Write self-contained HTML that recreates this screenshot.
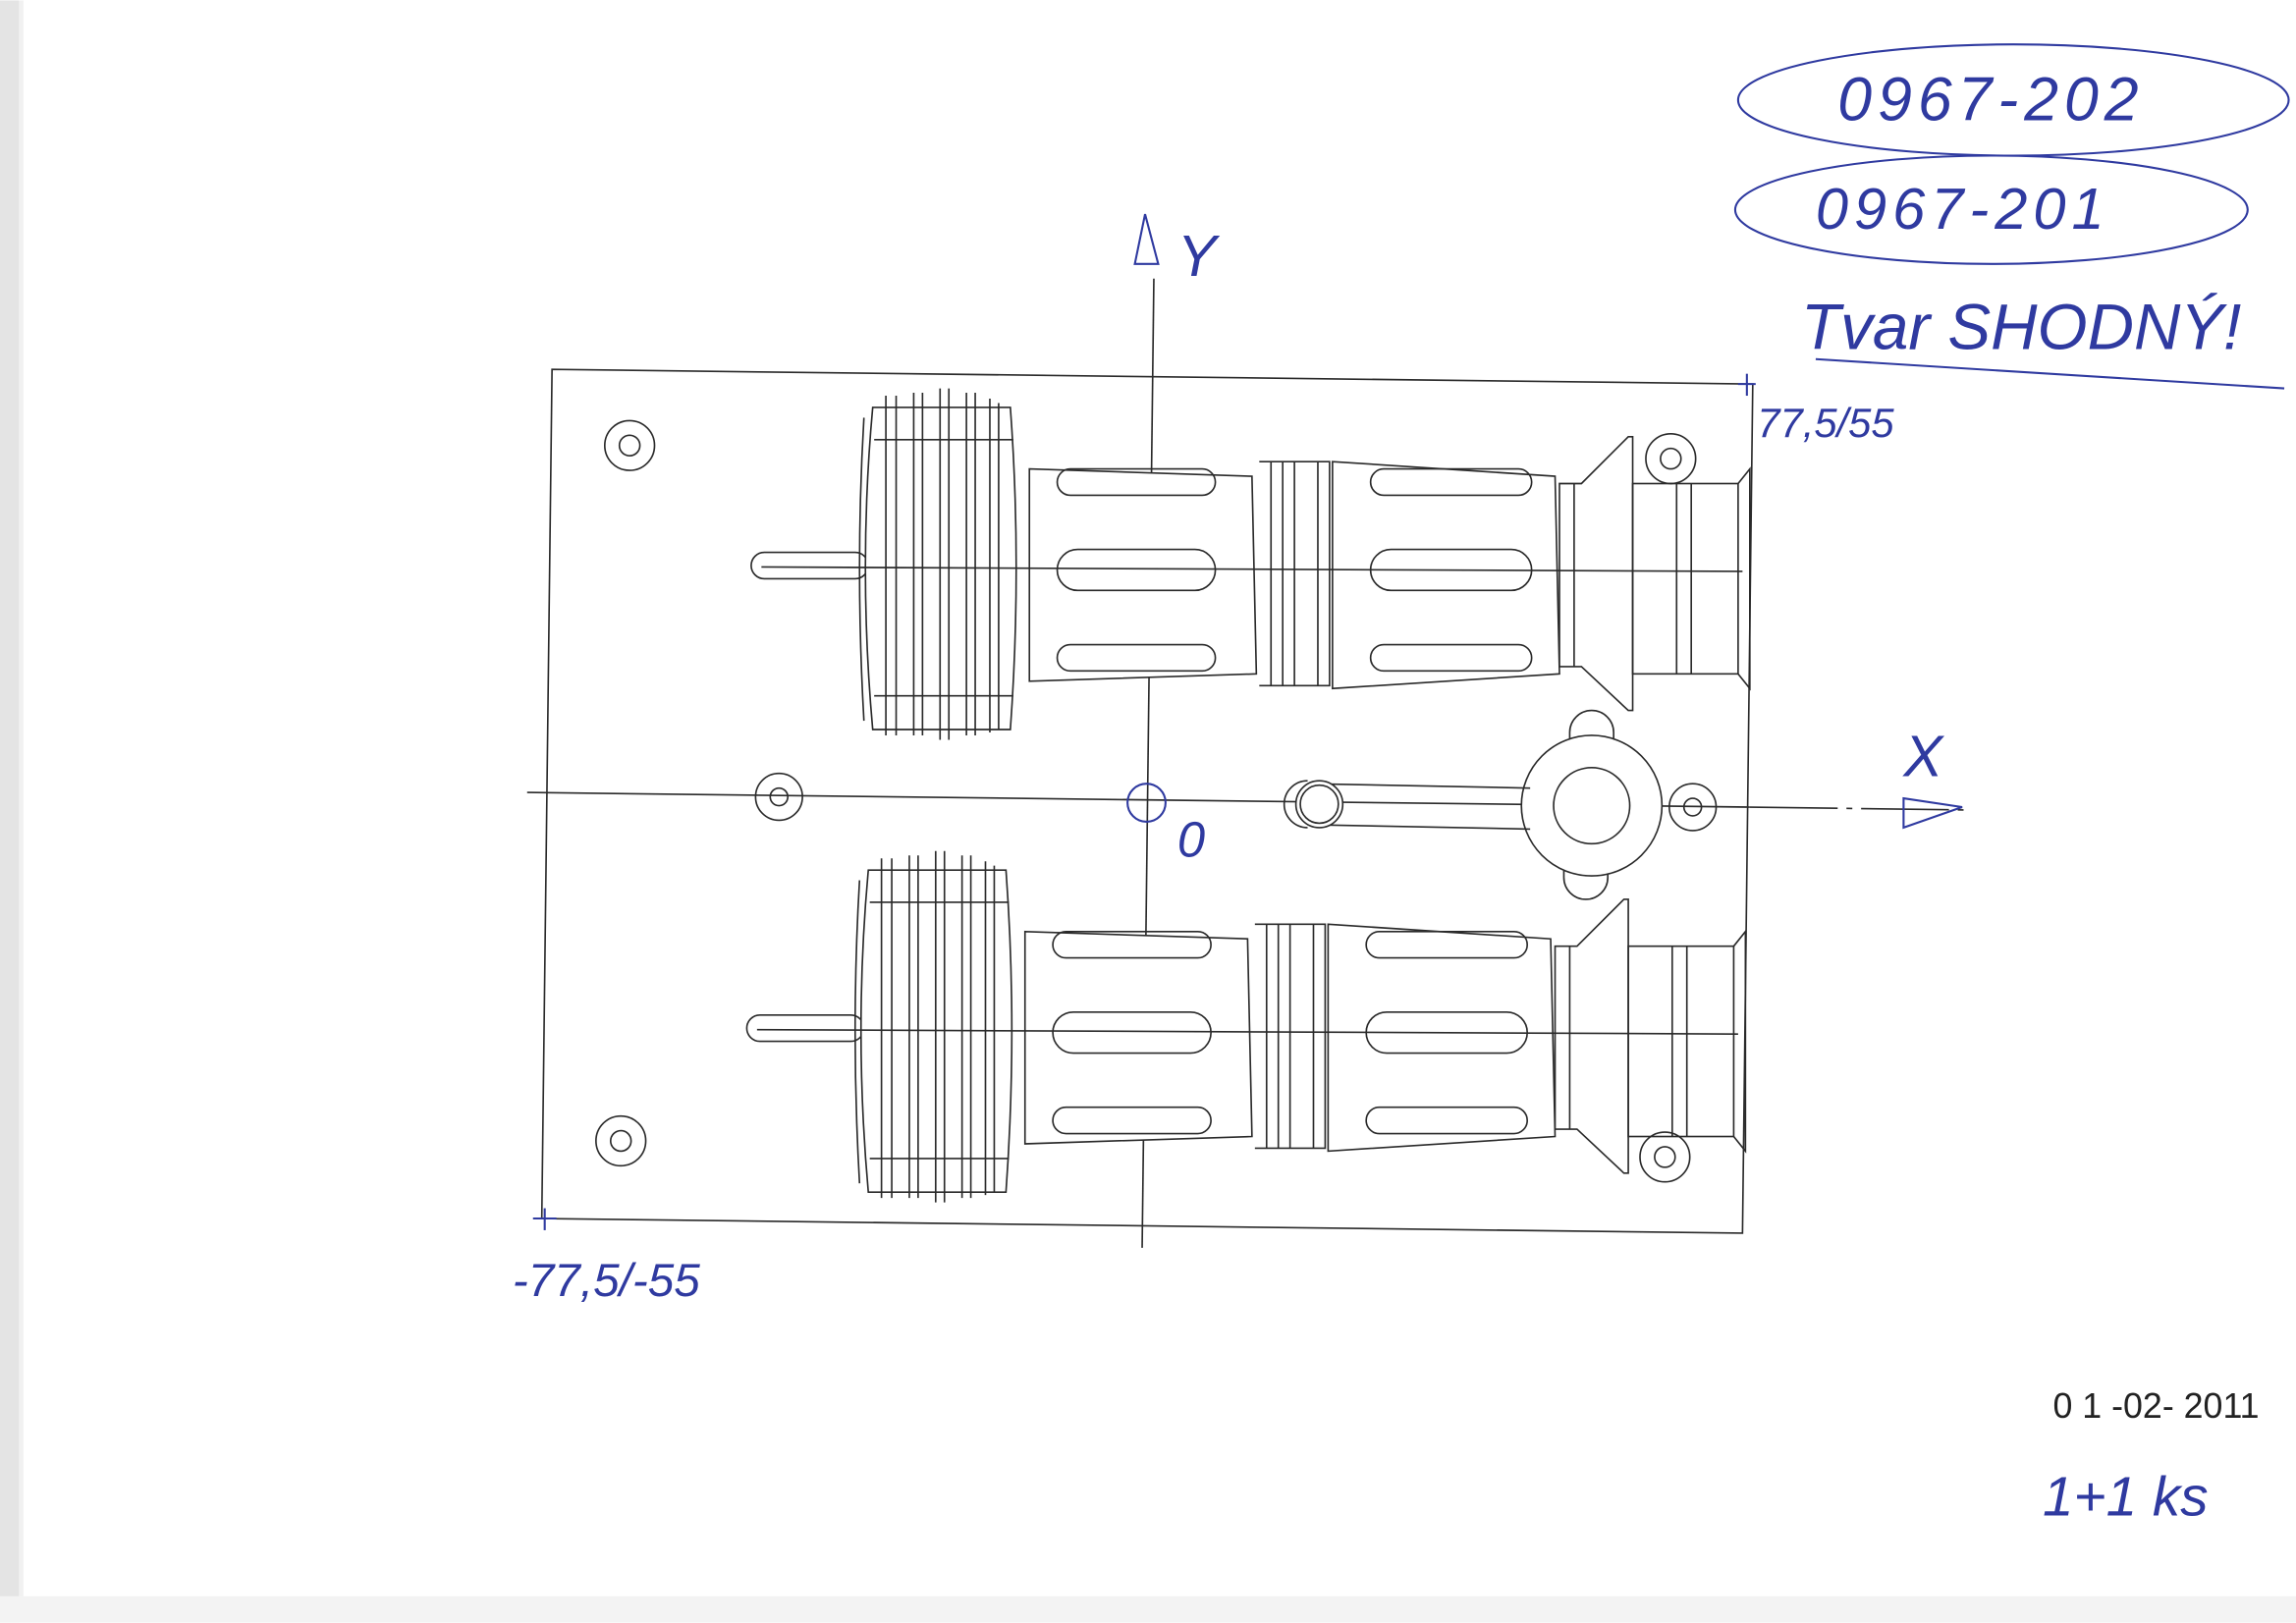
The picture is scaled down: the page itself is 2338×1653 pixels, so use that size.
<!DOCTYPE html>
<html><head><meta charset="utf-8"><style>
html,body{margin:0;padding:0;background:#fff;}
svg{display:block;}
.h{font-family:"Liberation Sans",sans-serif;fill:#2f3aa0;font-style:italic;}
</style></head><body>
<svg width="2338" height="1653" viewBox="0 0 1568 1108" xmlns="http://www.w3.org/2000/svg">
<rect x="0" y="0" width="1568" height="1108" fill="#fff"/>
<rect x="0" y="0" width="13" height="1108" fill="#e4e4e4"/>
<rect x="13" y="0" width="3" height="1108" fill="#f1f1f1"/>
<rect x="0" y="1090" width="1568" height="18" fill="#f3f3f3"/>
<g stroke="#2a2a2a" stroke-width="1.1" fill="none">
<polygon points="377,252 1197,262 1190,842 370,832"/>
<line x1="788" y1="190" x2="780" y2="852"/>
<line x1="360" y1="541" x2="1195" y2="551"/>
<line x1="1195" y1="551" x2="1345" y2="553" stroke-dasharray="60,6,4,6"/>
<g>
<circle cx="430" cy="304" r="17"/><circle cx="430" cy="304" r="7"/>
<circle cx="532" cy="544" r="16"/><circle cx="532" cy="544" r="6"/>
<circle cx="424" cy="779" r="17"/><circle cx="424" cy="779" r="7"/>
<circle cx="1141" cy="313" r="17"/><circle cx="1141" cy="313" r="7"/>
<circle cx="1137" cy="790" r="17"/><circle cx="1137" cy="790" r="7"/>
<circle cx="1156" cy="551" r="16"/><circle cx="1156" cy="551" r="6"/>
</g>
<rect x="1072" y="485" width="30" height="40" rx="15"/>
<rect x="1068" y="578" width="30" height="36" rx="15"/>
<circle cx="1087" cy="550" r="48" fill="#fff"/>
<circle cx="1087" cy="550" r="26"/>
<line x1="893" y1="535" x2="1045" y2="538"/><line x1="893" y1="563" x2="1045" y2="566"/>
<circle cx="901" cy="549" r="16" fill="#fff"/><circle cx="901" cy="549" r="13"/>
<path d="M893,533 A16,16 0 0 0 893,565"/>
</g>
<g id="r1" stroke="#2a2a2a" stroke-width="1.1" fill="none">
<rect x="513" y="377" width="80" height="18" rx="9" fill="#fff"/>
<path d="M590,285 Q584,387 590,492"/>
<path d="M596,278 L690,278 Q698,387 690,498 L596,498 Q586,387 596,278Z" fill="#fff"/>
<g>
<line x1="605" y1="270" x2="605" y2="502"/><line x1="612" y1="270" x2="612" y2="502"/>
<line x1="624" y1="268" x2="624" y2="502"/><line x1="630" y1="268" x2="630" y2="502"/>
<line x1="642" y1="265" x2="642" y2="505"/><line x1="648" y1="265" x2="648" y2="505"/>
<line x1="660" y1="268" x2="660" y2="502"/><line x1="666" y1="268" x2="666" y2="502"/>
<line x1="676" y1="272" x2="676" y2="500"/><line x1="682" y1="275" x2="682" y2="498"/>
<line x1="597" y1="300" x2="692" y2="300"/><line x1="597" y1="475" x2="692" y2="475"/>
</g>
<path d="M703,320 L855,325 L858,460 L703,465 Z" fill="#fff"/>
<path d="M860,315 L908,315 L908,468 L860,468" /><line x1="868" y1="315" x2="868" y2="468"/><line x1="876" y1="315" x2="876" y2="468"/><line x1="884" y1="315" x2="884" y2="468"/><line x1="900" y1="315" x2="900" y2="468"/>
<path d="M910,315 L1062,325 L1065,460 L910,470 Z" fill="#fff"/>
<g>
<rect x="722" y="320" width="108" height="18" rx="9"/><rect x="722" y="375" width="108" height="28" rx="14"/><rect x="722" y="440" width="108" height="18" rx="9"/>
<rect x="936" y="320" width="110" height="18" rx="9"/><rect x="936" y="375" width="110" height="28" rx="14"/><rect x="936" y="440" width="110" height="18" rx="9"/>
</g>
<path d="M1065,330 L1080,330 L1112,298 L1115,298 L1115,485 L1112,485 L1080,455 L1065,455 Z" fill="#fff"/>
<line x1="1075" y1="330" x2="1075" y2="455"/>
<rect x="1115" y="330" width="72" height="130"/>
<line x1="1145" y1="330" x2="1145" y2="460"/><line x1="1155" y1="330" x2="1155" y2="460"/>
<path d="M1187,330 L1195,320 L1195,470 L1187,460"/>
<line x1="520" y1="387" x2="1190" y2="390"/>
</g>
<use href="#r1" transform="translate(-3,316)"/>
<g stroke="#2f3aa0" stroke-width="1.4" fill="none">
<line x1="1187" y1="262" x2="1199" y2="262"/><line x1="1193" y1="255" x2="1193" y2="270"/>
<line x1="364" y1="832" x2="380" y2="832"/><line x1="372" y1="825" x2="372" y2="840"/>
<circle cx="783" cy="548" r="13"/>
<path d="M775,180 L791,180 L782,146 Z"/>
<path d="M1300,545 L1340,551 L1300,565 Z"/>
<ellipse cx="1375" cy="68" rx="188" ry="38"/>
<ellipse cx="1360" cy="143" rx="175" ry="37"/>
<line x1="1240" y1="245" x2="1560" y2="265"/>
</g>
<g class="h">
<text x="1255" y="82" font-size="42" letter-spacing="4">0967-202</text>
<text x="1240" y="156" font-size="40" letter-spacing="4">0967-201</text>
<text x="1230" y="238" font-size="44">Tvar SHODNÝ!</text>
<text x="1200" y="298" font-size="28">77,5/55</text>
<text x="350" y="885" font-size="32">-77,5/-55</text>
<text x="804" y="188" font-size="40">Y</text>
<text x="1300" y="530" font-size="40">X</text>
<text x="804" y="585" font-size="34">0</text>
<text x="1395" y="1035" font-size="38">1+1 ks</text>
</g>
<text x="1402" y="968" font-family="Liberation Sans Narrow,Liberation Sans,sans-serif" font-size="24" fill="#222" transform="scale(1,1)">0 1 -02- 2011</text>
</svg>
</body></html>
